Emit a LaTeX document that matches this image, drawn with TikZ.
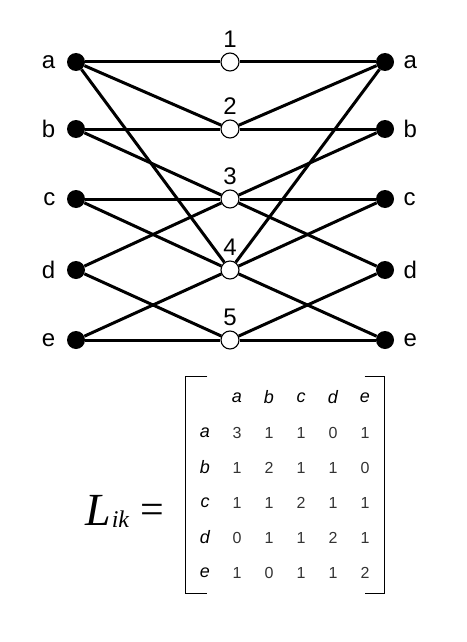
\documentclass[tikz,border=0pt]{standalone}
\usepackage{fontspec}
\setmainfont{Liberation Sans}
\newfontfamily\serifL{Liberation Serif}
\usetikzlibrary{positioning, matrix}

\begin{document}
\begin{tikzpicture}[x=1pt, y=-1pt, font=\fontsize{24}{24}\selectfont, node distance=6pt,
    pin/.style={circle, fill=black, inner sep=0pt, minimum size=18pt},
    hub/.style={circle, draw=black, line width=1.1pt, fill=white, inner sep=0pt, minimum size=18pt},
    wire/.style={line width=3pt},
    head/.style={font=\fontsize{18}{18}\selectfont\itshape},
    cell/.style={font=\fontsize{16}{16}\selectfont, text=black!80}]
    \useasboundingbox (0,0) rectangle (466,642);

    % left column
    \node[pin] (la) at (76,62) {};
    \node[pin] (lb) at (76,129) {};
    \node[pin] (lc) at (76,199) {};
    \node[pin] (ld) at (76,270) {};
    \node[pin] (le) at (76,340) {};
    % middle column
    \node[hub] (m1) at (230,62) {};
    \node[hub] (m2) at (230,129) {};
    \node[hub] (m3) at (230,199) {};
    \node[hub] (m4) at (230,270) {};
    \node[hub] (m5) at (230,340) {};
    % right column
    \node[pin] (ra) at (385,62) {};
    \node[pin] (rb) at (385,129) {};
    \node[pin] (rc) at (385,199) {};
    \node[pin] (rd) at (385,270) {};
    \node[pin] (re) at (385,340) {};

    \node[left=8pt of la] (tla) {a};
    \node[left=8pt of lb] (tlb) {b};
    \node[left=8pt of lc] (tlc) {c};
    \node[left=8pt of ld] (tld) {d};
    \node[left=8pt of le] (tle) {e};
    \node[right=6pt of ra] (tra) {a};
    \node[right=6pt of rb] (trb) {b};
    \node[right=6pt of rc] (trc) {c};
    \node[right=6pt of rd] (trd) {d};
    \node[right=6pt of re] (tre) {e};
    \node[above=1pt of m1] (n1) {1};
    \node[above=1pt of m2] (n2) {2};
    \node[above=1pt of m3] (n3) {3};
    \node[above=1pt of m4] (n4) {4};
    \node[above=1pt of m5] (n5) {5};

    \draw[wire] (la) -- (m1); \draw[wire] (m1) -- (ra);
    \draw[wire] (la) -- (m2); \draw[wire] (m2) -- (ra);
    \draw[wire] (la) -- (m4); \draw[wire] (m4) -- (ra);
    \draw[wire] (lb) -- (m2); \draw[wire] (m2) -- (rb);
    \draw[wire] (lb) -- (m3); \draw[wire] (m3) -- (rb);
    \draw[wire] (lc) -- (m3); \draw[wire] (m3) -- (rc);
    \draw[wire] (lc) -- (m4); \draw[wire] (m4) -- (rc);
    \draw[wire] (ld) -- (m3); \draw[wire] (m3) -- (rd);
    \draw[wire] (ld) -- (m5); \draw[wire] (m5) -- (rd);
    \draw[wire] (le) -- (m4); \draw[wire] (m4) -- (re);
    \draw[wire] (le) -- (m5); \draw[wire] (m5) -- (re);

    % incidence product
    \node[anchor=base west, inner sep=0pt, font=\serifL\fontsize{46}{46}\selectfont] (lhs) at (85,525)
      {\itshape L\kern1pt\raisebox{-2pt}{\fontsize{24}{24}\selectfont ik}};
    \node[anchor=base west, inner sep=0pt, font=\serifL\fontsize{42}{42}\selectfont] (eq) at (140,523) {=};

    \matrix (lik) [matrix of nodes, anchor=center, row sep=0pt, column sep=0pt,
        nodes={minimum width=32pt, minimum height=35pt, inner sep=0pt, anchor=center}]
      at (285,485) {
          & |[head]| a & |[head]| b & |[head]| c & |[head]| d & |[head]| e \\
        |[head]| a & |[cell]| 3 & |[cell]| 1 & |[cell]| 1 & |[cell]| 0 & |[cell]| 1 \\
        |[head]| b & |[cell]| 1 & |[cell]| 2 & |[cell]| 1 & |[cell]| 1 & |[cell]| 0 \\
        |[head]| c & |[cell]| 1 & |[cell]| 1 & |[cell]| 2 & |[cell]| 1 & |[cell]| 1 \\
        |[head]| d & |[cell]| 0 & |[cell]| 1 & |[cell]| 1 & |[cell]| 2 & |[cell]| 1 \\
        |[head]| e & |[cell]| 1 & |[cell]| 0 & |[cell]| 1 & |[cell]| 1 & |[cell]| 2 \\
      };
    \draw[line width=1.3pt] ([xshift=22pt]lik.north west) -- (lik.north west)
      -- (lik.south west) -- ([xshift=22pt]lik.south west);
    \draw[line width=1.3pt] ([xshift=-20pt]lik.north east) -- (lik.north east)
      -- (lik.south east) -- ([xshift=-20pt]lik.south east);
\end{tikzpicture}
\end{document}
